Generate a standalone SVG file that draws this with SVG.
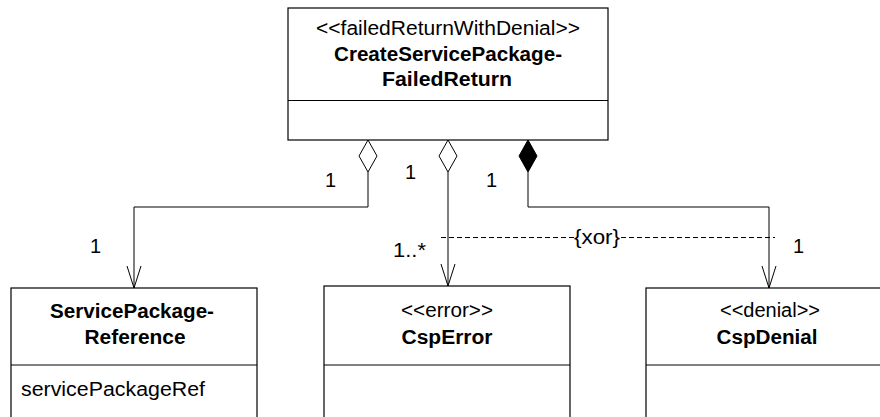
<svg xmlns="http://www.w3.org/2000/svg" width="880" height="417" viewBox="0 0 880 417">
<style>
.box{fill:#fff;stroke:#000;stroke-width:1.2}
.ln{fill:none;stroke:#000;stroke-width:1}
.dash{fill:none;stroke:#000;stroke-width:1;stroke-dasharray:5,3}
text{font-family:"Liberation Sans",Arial,sans-serif;font-size:20px;fill:#000}
.b{font-weight:bold}
.c{text-anchor:middle}
</style>
<defs>
<marker id="open" markerUnits="userSpaceOnUse" markerWidth="24" markerHeight="16" viewBox="0 0 24 16" refX="22" refY="7" orient="auto" overflow="visible">
<path d="M0,0 L22,7 L0,14" fill="none" stroke="#000" stroke-width="1"/>
</marker>
</defs>
<rect width="880" height="417" fill="#fff"/>
<g id="CreateServicePackageFailedReturn">
<rect class="box" x="288" y="8" width="320" height="132"/>
<line class="ln" x1="288" y1="100.5" x2="608" y2="100.5"/>
<text class="c" x="448" y="35" textLength="264" lengthAdjust="spacingAndGlyphs">&lt;&lt;failedReturnWithDenial&gt;&gt;</text>
<text class="c b" x="448" y="61" textLength="228" lengthAdjust="spacingAndGlyphs">CreateServicePackage-</text>
<text class="c b" x="447" y="86" textLength="130" lengthAdjust="spacingAndGlyphs">FailedReturn</text>
</g>
<g id="ServicePackageReference">
<rect class="box" x="11" y="288" width="246" height="140"/>
<line class="ln" x1="11" y1="365" x2="257" y2="365"/>
<text class="c b" x="132" y="318" textLength="164" lengthAdjust="spacingAndGlyphs">ServicePackage-</text>
<text class="c b" x="135" y="344" textLength="101" lengthAdjust="spacingAndGlyphs">Reference</text>
<text x="21" y="396" textLength="184" lengthAdjust="spacingAndGlyphs">servicePackageRef</text>
</g>
<g id="CspError">
<rect class="box" x="324" y="286" width="246" height="142"/>
<line class="ln" x1="324" y1="365" x2="570" y2="365"/>
<text class="c" x="447" y="317" textLength="92" lengthAdjust="spacingAndGlyphs">&lt;&lt;error&gt;&gt;</text>
<text class="c b" x="447" y="344" textLength="91" lengthAdjust="spacingAndGlyphs">CspError</text>
</g>
<g id="CspDenial">
<rect class="box" x="646" y="288" width="246" height="140"/>
<line class="ln" x1="646" y1="365" x2="892" y2="365"/>
<text class="c" x="770" y="317" textLength="100" lengthAdjust="spacingAndGlyphs">&lt;&lt;denial&gt;&gt;</text>
<text class="c b" x="767" y="344" textLength="101" lengthAdjust="spacingAndGlyphs">CspDenial</text>
</g>
<g id="connectors">
<polyline class="ln" points="368,172 368,207 134,207 134,288" marker-end="url(#open)"/>
<polygon points="368,140 377,156 368,172 359,156" fill="#fff" stroke="#000" stroke-width="1"/>
<polyline class="ln" points="448,172 448,286" marker-end="url(#open)"/>
<polygon points="448,140 457,156 448,172 439,156" fill="#fff" stroke="#000" stroke-width="1"/>
<polyline class="ln" points="528,172 528,207 769,207 769,288" marker-end="url(#open)"/>
<polygon points="528,140 537,156 528,172 519,156" fill="#000" stroke="#000" stroke-width="1"/>
<line class="dash" x1="441" y1="237.5" x2="574" y2="237.5"/>
<line class="dash" x1="621" y1="237.5" x2="775" y2="237.5"/>
<text class="c" x="597" y="244" textLength="46" lengthAdjust="spacingAndGlyphs">{xor}</text>
<text x="325" y="187">1</text>
<text x="405" y="179">1</text>
<text x="486" y="187">1</text>
<text x="90" y="253">1</text>
<text x="393" y="257" textLength="33" lengthAdjust="spacingAndGlyphs">1..*</text>
<text x="793" y="253">1</text>
</g>
</svg>
